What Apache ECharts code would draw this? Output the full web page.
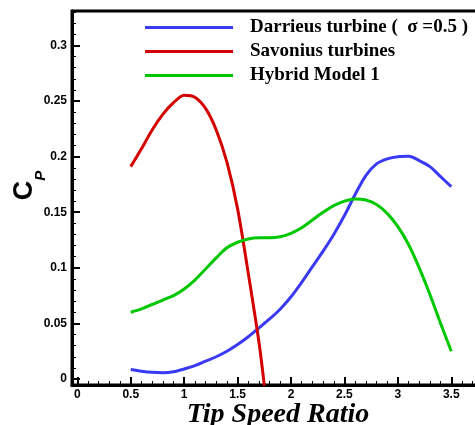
<!DOCTYPE html>
<html>
<head>
<meta charset="utf-8">
<script src="https://cdn.jsdelivr.net/npm/echarts@6/dist/echarts.min.js"></script>
<style>html,body{margin:0;padding:0;background:#fff}#c{width:475px;height:425px}</style>
</head>
<body>
<div id="c"></div>
<script>
// ---- data ----
const seriesNames = ['Darrieus turbine (  \u03c3 =0.5 )', 'Savonius turbines', 'Hybrid Model 1'];
const tsrDH = [0.5,0.6,0.7,0.8,0.9,1.0,1.1,1.2,1.3,1.4,1.5,1.6,1.7,1.8,1.9,2.0,2.1,2.2,2.3,2.4,2.5,2.6,2.7,2.8,2.9,3.0,3.1,3.2,3.3,3.4,3.5];
const darrieusCp = [0.0085,0.007,0.006,0.0057,0.0065,0.009,0.012,0.016,0.020,0.025,0.031,0.038,0.046,0.054,0.063,0.074,0.087,0.101,0.115,0.130,0.147,0.166,0.183,0.1935,0.198,0.200,0.2003,0.1965,0.191,0.182,0.173];
const hybridCp = [0.060,0.063,0.067,0.071,0.075,0.081,0.089,0.099,0.109,0.118,0.123,0.126,0.127,0.127,0.128,0.131,0.136,0.143,0.150,0.156,0.160,0.162,0.161,0.157,0.149,0.137,0.121,0.100,0.076,0.050,0.025];
const savTsr = [0.5,0.6,0.7,0.8,0.9,1.0,1.1,1.2,1.3,1.4,1.5,1.6,1.7,1.75];
const savoniusCp = [0.191,0.207,0.224,0.238,0.2485,0.2553,0.2535,0.2434,0.224,0.195,0.153,0.095,0.033,-0.006];
const xTicks = [0,0.5,1,1.5,2,2.5,3,3.5];
const yTicks = [0,0.05,0.1,0.15,0.2,0.25,0.3];
// ----------------------------------------------

const xMinor = []; for (let i = 0; i <= 37; i++) xMinor.push(+(i*0.1).toFixed(2));
const yMinor = []; for (let i = 0; i <= 33; i++) yMinor.push(+(i*0.01).toFixed(2));
const zip = (a, b) => a.map((v, i) => [v, b[i]]);
const colors = ['#3a3af5', '#d40000', '#00c800'];
const labelFont = {color:'#000', fontFamily:'Liberation Sans, Arial, sans-serif', fontWeight:'bold', fontSize:12};
const XMIN = -0.05, XMAX = 3.75, YMIN = -0.0054, YMAX = 0.331;

const chart = echarts.init(document.getElementById('c'), null, {renderer:'canvas'});
chart.setOption({
  animation:false,
  backgroundColor:'#fff',
  grid:{left:72, top:11, right:-3, bottom:40, containLabel:false, outerBoundsMode:'none', show:true, borderColor:'#000', borderWidth:3, backgroundColor:'transparent'},
  legend:{
    orient:'vertical', left:145, top:18, itemGap:5, padding:0,
    itemWidth:88, itemHeight:3, icon:'rect',
    data:seriesNames,
    textStyle:{color:'#000', fontFamily:'Liberation Serif, Times New Roman, serif', fontWeight:'bold', fontSize:19, lineHeight:18, padding:[0,0,0,12]}
  },
  xAxis:[{
    type:'value', min:XMIN, max:XMAX, position:'bottom',
    name:'Tip Speed Ratio', nameLocation:'middle', nameGap:16, nameMoveOverlap:false,
    nameTextStyle:{color:'#000', fontFamily:'Liberation Serif, Times New Roman, serif', fontWeight:'bold', fontStyle:'italic', fontSize:28, padding:[0,0,0,6]},
    axisLine:{show:true, onZero:false, lineStyle:{color:'#000', width:3}},
    axisTick:{show:true, inside:true, length:8, lineStyle:{color:'#000', width:2}, customValues:xTicks},
    axisLabel:Object.assign({margin:4, customValues:xTicks}, labelFont),
    splitLine:{show:false}
  },{
    type:'value', min:XMIN, max:XMAX, position:'bottom',
    axisLine:{show:false, onZero:false},
    axisTick:{show:true, inside:true, length:4, lineStyle:{color:'#000', width:1}, customValues:xMinor},
    axisLabel:{show:false}, splitLine:{show:false}
  }],
  yAxis:[{
    type:'value', min:YMIN, max:YMAX, position:'left',
    name:'{c|C}{p|P}', nameLocation:'middle', nameGap:24, nameMoveOverlap:false,
    nameTextStyle:{padding:[0,0,0,25], rich:{
      c:{fontFamily:'Liberation Sans, Arial, sans-serif', fontWeight:'bold', fontSize:27, color:'#000', verticalAlign:'top'},
      p:{fontFamily:'Liberation Sans, Arial, sans-serif', fontWeight:'bold', fontStyle:'italic', fontSize:15, color:'#000', verticalAlign:'bottom', padding:[22,0,0,0]}
    }},
    axisLine:{show:true, onZero:false, lineStyle:{color:'#000', width:3}},
    axisTick:{show:true, inside:true, length:8, lineStyle:{color:'#000', width:2}, customValues:yTicks},
    axisLabel:Object.assign({margin:5, customValues:yTicks}, labelFont),
    splitLine:{show:false}
  },{
    type:'value', min:YMIN, max:YMAX, position:'left',
    axisLine:{show:false, onZero:false},
    axisTick:{show:true, inside:true, length:4, lineStyle:{color:'#000', width:1}, customValues:yMinor},
    axisLabel:{show:false}, splitLine:{show:false}
  }],
  series:[
    {name:seriesNames[0], type:'line', smooth:0.3, showSymbol:false, data:zip(tsrDH, darrieusCp), lineStyle:{color:colors[0], width:3}, itemStyle:{color:colors[0]}},
    {name:seriesNames[1], type:'line', smooth:0.3, showSymbol:false, data:zip(savTsr, savoniusCp), lineStyle:{color:colors[1], width:3}, itemStyle:{color:colors[1]}},
    {name:seriesNames[2], type:'line', smooth:0.3, showSymbol:false, data:zip(tsrDH, hybridCp), lineStyle:{color:colors[2], width:3}, itemStyle:{color:colors[2]}}
  ]
});
</script>
</body>
</html>
